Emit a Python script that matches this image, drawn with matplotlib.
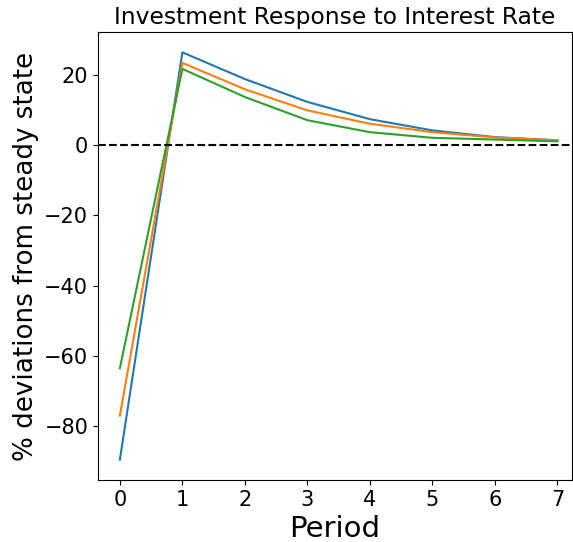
import matplotlib
matplotlib.use("Agg")
import matplotlib.pyplot as plt

periods = [0, 1, 2, 3, 4, 5, 6, 7]
series_a = [-89.5, 26.3, 18.7, 12.2, 7.3, 4.1, 2.2, 1.3]
series_b = [-77.0, 23.3, 15.8, 9.8, 6.0, 3.6, 2.1, 1.3]
series_c = [-63.5, 21.6, 13.6, 7.0, 3.6, 2.0, 1.5, 1.0]

fig = plt.figure(figsize=(5.73, 5.42), dpi=100)
ax = fig.add_axes([0.171, 0.1144, 0.827, 0.8266])

ax.plot(periods, series_a, color="#1f77b4", lw=1.5)
ax.plot(periods, series_b, color="#ff7f0e", lw=1.5)
ax.plot(periods, series_c, color="#2ca02c", lw=1.5)
ax.axhline(0, color="black", linestyle="--", lw=1.5)

ax.set_xlim(-0.35, 7.23)
ax.set_xticks(periods)
ax.tick_params(labelsize=15)
ax.set_title("Investment Response to Interest Rate", fontsize=16.8)
ax.set_xlabel("Period", fontsize=21)
ax.set_ylabel("% deviations from steady state", fontsize=18.8)

fig.savefig("out.png", dpi=100)
